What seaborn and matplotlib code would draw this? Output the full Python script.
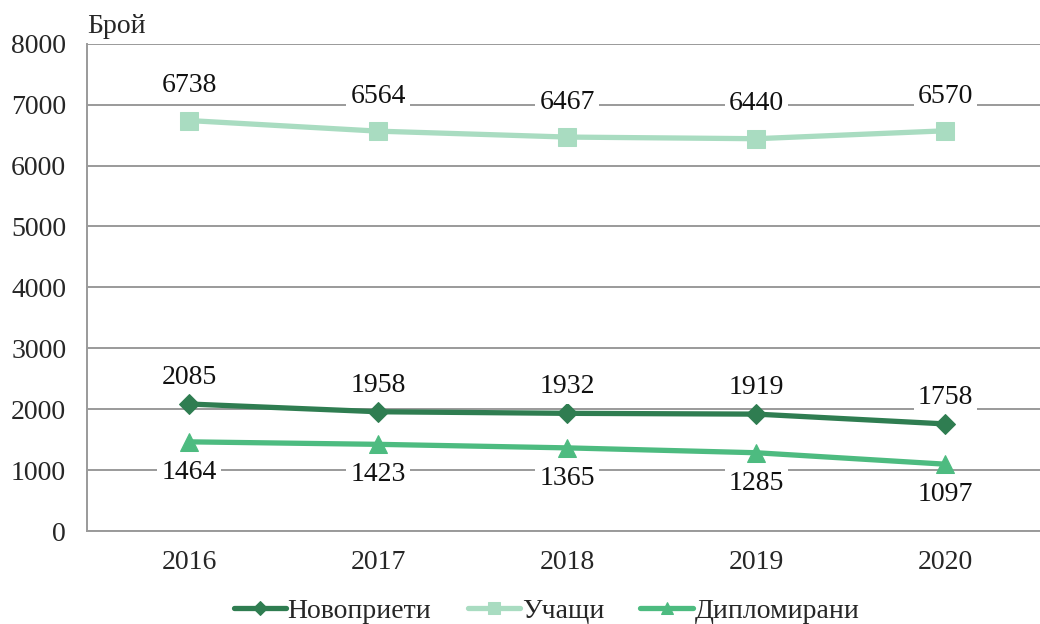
import pandas as pd
import matplotlib
matplotlib.use("Agg")
import matplotlib.pyplot as plt
import seaborn as sns

godini = ["2016", "2017", "2018", "2019", "2020"]
novopriet = [2085, 1958, 1932, 1919, 1758]
uchashti = [6738, 6564, 6467, 6440, 6570]
diplomirani = [1464, 1423, 1365, 1285, 1097]

sns.set_style("white")
plt.rcParams["font.family"] = ["Liberation Serif", "DejaVu Serif"]

serii = [
    ("Новоприети", novopriet, "#2f7d51", "D", 10, 19),
    ("Учащи", uchashti, "#a9dcc1", "s", 13, 25),
    ("Дипломирани", diplomirani, "#4dbb80", "^", 13, -22),
]

fig = plt.figure(figsize=(10.4, 6.24), dpi=100)
ax = fig.add_axes([0.0837, 0.149, 0.9163, 0.781])

for ime, stoinosti, cvjat, marker, ms, offset in serii:
    dani = pd.DataFrame({"Година": godini, "Брой": stoinosti})
    sns.lineplot(data=dani, x="Година", y="Брой", ax=ax, color=cvjat, lw=3.8,
                 marker=marker, markersize=ms, markeredgecolor=cvjat, label=ime)
    for i, v in enumerate(stoinosti):
        ax.annotate(str(v), (i, v), xytext=(0, offset), textcoords="offset points",
                    ha="center", va="center", fontsize=20, color="#111111",
                    bbox=dict(boxstyle="square,pad=0.15", fc="white", ec="none"))

ax.set_xlim(-0.54, 4.44)
ax.set_ylim(0, 8000)
ax.set_yticks(range(0, 8001, 1000))
ax.set_xlabel("")
ax.set_ylabel("")
ax.grid(axis="y", color="#9a9a9a", lw=1.4)
ax.set_axisbelow(True)
for s in ["top", "right"]:
    ax.spines[s].set_visible(False)
for s in ["left", "bottom"]:
    ax.spines[s].set_color("#9a9a9a")
    ax.spines[s].set_linewidth(1.4)

ax.set_xticks([i - 0.5 for i in range(6)], minor=True)
ax.tick_params(axis="x", which="major", length=0, labelsize=20, pad=14)
ax.tick_params(axis="x", which="minor", length=7, color="#9a9a9a", width=1.4, direction="out")
ax.tick_params(axis="y", length=7, color="#9a9a9a", width=1.4, labelsize=20, pad=8)

fig.text(0.0837, 0.958, "Брой", fontsize=20, ha="left", va="center")

ax.legend(loc="center", bbox_to_anchor=(0.482, -0.165), ncol=3, frameon=False,
          fontsize=20, handlelength=1.9, columnspacing=1.3, handletextpad=0.05,
          markerscale=0.7)

fig.savefig("out.png", dpi=100)
